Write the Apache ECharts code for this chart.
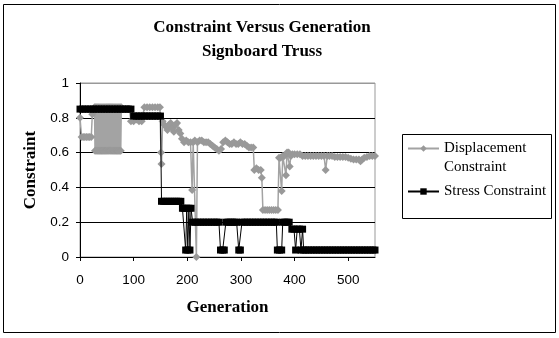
<!DOCTYPE html>
<html>
<head>
<meta charset="utf-8">
<script src="https://cdn.jsdelivr.net/npm/echarts@6/dist/echarts.min.js"></script>
<style>
html, body { margin: 0; padding: 0; background: #fff; }
#main { width: 559px; height: 338px; }
</style>
</head>
<body>
<div id="main"></div>
<script>
// values (generation, constraint)
var dispGen = [0, 3, 6, 9, 12, 15, 18, 21, 23, 25,
  27, 28, 29, 30, 31, 32, 33, 34, 35, 36, 37, 38, 39, 40, 41, 42, 43, 44, 45, 46, 47, 48, 49, 50, 51, 52,
  53, 54, 55, 56, 57, 58, 59, 60, 61, 62, 63, 64, 65, 66, 67, 68, 69, 70, 71, 72, 73, 74, 75, 76, 77,
  80, 84, 88, 92, 95, 100, 105, 110, 115, 120, 125, 130, 135, 140, 145, 149, 151, 152,
  154, 157, 160, 163, 166, 169, 172, 175, 178, 181, 184, 187, 190, 194, 198, 202, 206, 209, 211, 214, 217, 219,
  223, 227, 231, 235, 239, 243, 247, 251, 255, 259, 263, 267, 271, 275, 279, 283, 287, 291, 295, 299,
  303, 307, 311, 315, 319, 323, 325, 329, 333, 337, 339, 341, 345, 349, 353, 357, 361, 365, 369,
  371, 374, 376, 378, 381, 384, 386, 389, 391, 393, 396, 400, 405, 410, 415, 420, 425, 430, 435, 440,
  445, 450, 455, 458, 461, 465, 470, 475, 480, 485, 490, 495, 500, 505, 510, 515, 520, 523, 526, 530,
  535, 540, 545, 550];
var dispVal = [0.80, 0.69, 0.69, 0.69, 0.69, 0.69, 0.69, 0.69, 0.82, 0.84,
  0.86, 0.61, 0.86, 0.61, 0.86, 0.61, 0.86, 0.61, 0.86, 0.61, 0.86, 0.61, 0.86, 0.61, 0.86, 0.61, 0.86, 0.61, 0.86, 0.61, 0.86, 0.61, 0.86, 0.61, 0.86, 0.61,
  0.86, 0.61, 0.86, 0.61, 0.86, 0.61, 0.86, 0.61, 0.86, 0.61, 0.86, 0.61, 0.86, 0.61, 0.86, 0.61, 0.86, 0.61, 0.86, 0.61, 0.86, 0.61, 0.86, 0.61, 0.86,
  0.85, 0.85, 0.85, 0.85, 0.78, 0.78, 0.79, 0.78, 0.78, 0.86, 0.86, 0.86, 0.86, 0.86, 0.86, 0.86, 0.60, 0.535,
  0.78, 0.76, 0.75, 0.73, 0.76, 0.77, 0.74, 0.72, 0.76, 0.77, 0.73, 0.71, 0.68, 0.66, 0.67, 0.66, 0.66, 0.385, 0.66, 0.67, 0.0, 0.66,
  0.67, 0.67, 0.66, 0.66, 0.66, 0.65, 0.64, 0.63, 0.62, 0.61, 0.62, 0.66, 0.67, 0.66, 0.65, 0.65, 0.66, 0.65, 0.65, 0.66,
  0.65, 0.65, 0.64, 0.63, 0.63, 0.63, 0.50, 0.51, 0.50, 0.50, 0.455, 0.27, 0.27, 0.27, 0.27, 0.27, 0.27, 0.27, 0.27,
  0.57, 0.57, 0.38, 0.58, 0.58, 0.47, 0.60, 0.60, 0.52, 0.58, 0.59, 0.59, 0.59, 0.59, 0.58, 0.58, 0.58, 0.58, 0.58, 0.58,
  0.58, 0.58, 0.58, 0.50, 0.58, 0.58, 0.58, 0.575, 0.575, 0.575, 0.575, 0.575, 0.57, 0.565, 0.56, 0.56, 0.56, 0.55, 0.56, 0.57,
  0.575, 0.58, 0.58, 0.58];

var stressGen = [0, 5, 10, 15, 20, 25, 30, 35, 40, 45, 50, 55, 60, 65, 70, 75, 80, 85, 90, 95,
  100, 105, 110, 115, 120, 125, 130, 135, 140, 145, 150,
  152, 156, 160, 164, 168, 172, 176, 180, 184, 188,
  191, 194, 197, 199, 201, 203, 205, 207,
  210, 215, 220, 225, 230, 235, 240, 245, 250, 255, 259,
  262, 266, 269, 272, 276, 280, 284, 288, 292, 296, 299, 302,
  307, 312, 317, 322, 327, 332, 337, 342, 347, 352, 357, 362, 366,
  368, 372, 376, 378, 382, 386, 390,
  395, 399, 402, 405, 409, 412, 415, 417,
  421, 426, 431, 436, 441, 446, 451, 456, 461, 466, 471, 476, 481, 486, 491, 496, 501, 506, 511, 516, 521, 526, 531, 536, 541, 546, 550];
var stressVal = [0.85, 0.85, 0.85, 0.85, 0.85, 0.85, 0.85, 0.85, 0.85, 0.85, 0.85, 0.85, 0.85, 0.85, 0.85, 0.85, 0.85, 0.85, 0.85, 0.85,
  0.81, 0.81, 0.81, 0.81, 0.81, 0.81, 0.81, 0.81, 0.81, 0.81, 0.81,
  0.32, 0.32, 0.32, 0.32, 0.32, 0.32, 0.32, 0.32, 0.32, 0.32,
  0.28, 0.28, 0.04, 0.28, 0.04, 0.28, 0.04, 0.28,
  0.2, 0.2, 0.2, 0.2, 0.2, 0.2, 0.2, 0.2, 0.2, 0.2, 0.2,
  0.04, 0.04, 0.04, 0.2, 0.2, 0.2, 0.2, 0.2, 0.2, 0.04, 0.04, 0.2,
  0.2, 0.2, 0.2, 0.2, 0.2, 0.2, 0.2, 0.2, 0.2, 0.2, 0.2, 0.2, 0.2,
  0.04, 0.04, 0.04, 0.2, 0.2, 0.2, 0.2,
  0.16, 0.16, 0.04, 0.16, 0.16, 0.04, 0.16, 0.04,
  0.04, 0.04, 0.04, 0.04, 0.04, 0.04, 0.04, 0.04, 0.04, 0.04, 0.04, 0.04, 0.04, 0.04, 0.04, 0.04, 0.04, 0.04, 0.04, 0.04, 0.04, 0.04, 0.04, 0.04, 0.04, 0.04, 0.04];

var xTicks = [0, 100, 200, 300, 400, 500];
var seriesNames = ['Displacement Constraint', 'Stress Constraint'];

function pairs(xs, ys) {
  var out = [];
  for (var i = 0; i < xs.length; i++) {
    out.push([xs[i], ys[i]]);
  }
  return out;
}

var chart = echarts.init(document.getElementById('main'), null, { renderer: 'canvas' });
var serif = 'Liberation Serif, Times New Roman, serif';
var sans = 'Liberation Sans, Arial, sans-serif';

var option = {
  backgroundColor: '#ffffff',
  animation: false,
  title: {
    text: 'Constraint Versus Generation\nSignboard Truss',
    left: 262,
    textAlign: 'center',
    top: 16,
    padding: 0,
    textStyle: { fontFamily: serif, fontSize: 17, fontWeight: 'bold', color: '#000', lineHeight: 24 }
  },
  grid: {
    left: 80, top: 83, width: 295, height: 174,
    show: true, borderColor: '#999', borderWidth: 1, backgroundColor: 'transparent'
  },
  legend: {
    orient: 'vertical',
    left: 407,
    top: 120,
    padding: 0,
    itemWidth: 31,
    itemHeight: 8,
    itemGap: 5,
    data: seriesNames,
    formatter: function (name) {
      return name == seriesNames[0] ? '\nDisplacement\nConstraint' : name;
    },
    textStyle: { fontFamily: serif, fontSize: 15, lineHeight: 19, color: '#000' }
  },
  xAxis: {
    type: 'value',
    min: 0,
    max: 550,
    interval: 100,
    name: 'Generation',
    nameLocation: 'middle',
    nameGap: 42,
    nameTextStyle: { fontFamily: serif, fontSize: 17, fontWeight: 'bold', color: '#000' },
    axisLine: { lineStyle: { color: '#000', width: 1 } },
    axisTick: { show: true, length: 4, customValues: xTicks, lineStyle: { color: '#000' } },
    axisLabel: { customValues: xTicks, margin: 16, fontFamily: sans, fontSize: 13.5, color: '#000' },
    splitLine: { show: false }
  },
  yAxis: {
    type: 'value',
    min: 0,
    max: 1,
    interval: 0.2,
    name: 'Constraint',
    nameLocation: 'middle',
    nameGap: 40,
    nameTextStyle: { fontFamily: serif, fontSize: 17, fontWeight: 'bold', color: '#000' },
    axisLine: { show: true, lineStyle: { color: '#000', width: 1 } },
    axisTick: { show: true, length: 4, lineStyle: { color: '#000' } },
    axisLabel: { margin: 11, fontFamily: sans, fontSize: 13.5, color: '#000' },
    splitLine: { show: true, lineStyle: { color: ['#000', '#000', '#000', '#000', '#000', '#999'], width: 1 } }
  },
  series: [{
    name: seriesNames[0],
    type: 'line',
    data: pairs(dispGen, dispVal),
    symbol: 'diamond',
    symbolSize: 8,
    z: 2,
    silent: true,
    lineStyle: { color: '#a3a3a3', width: 1.5 },
    itemStyle: { color: '#999999' }
  }, {
    name: seriesNames[1],
    type: 'line',
    data: pairs(stressGen, stressVal),
    symbol: 'rect',
    symbolSize: 7,
    z: 3,
    silent: true,
    lineStyle: { color: '#000', width: 1 },
    itemStyle: { color: '#000' }
  }],
  graphic: [{
    type: 'rect',
    shape: { x: 3.5, y: 4.5, width: 552, height: 328 },
    style: { fill: 'none', stroke: '#000', lineWidth: 1 },
    silent: true
  }, {
    type: 'rect',
    shape: { x: 402.5, y: 134.5, width: 149, height: 84 },
    style: { fill: 'none', stroke: '#000', lineWidth: 1 },
    silent: true
  }]
};

chart.setOption(option);
</script>
</body>
</html>
